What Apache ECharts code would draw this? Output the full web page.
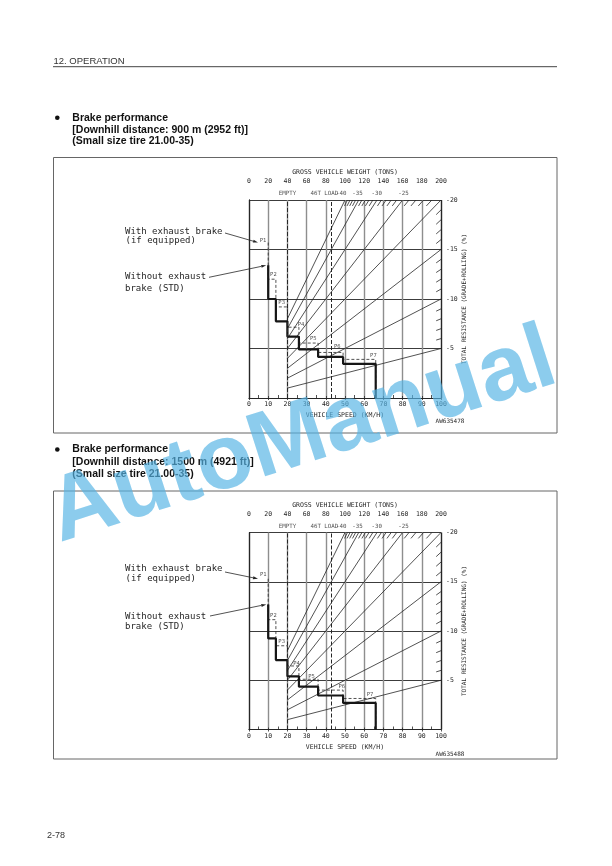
<!DOCTYPE html>
<html><head><meta charset="utf-8">
<script src="https://cdn.jsdelivr.net/npm/echarts@6/dist/echarts.min.js"></script>
<style>html,body{margin:0;padding:0;background:#fff}#c{width:612px;height:866px}</style>
</head><body><div id="c"></div>
<script>
// ---------- data ----------
const speedTicks = [0,10,20,30,40,50,60,70,80,90,100];          // km/h
const weightTicks = [0,20,40,60,80,100,120,140,160,180,200];    // tons
const resistanceTicks = [-20,-15,-10,-5];                        // %
const gearLabels = ['P1','P2','P3','P4','P5','P6','P7'];
const gearSpeeds = [10, 14, 20, 26, 36, 49, 66];                 // km/h, right end of each gear
// chart 1 : downhill distance 900 m
const c1Std = [13.4, 10.0, 7.75, 6.2, 4.9, 4.15, 3.45];
const c1Exh = [15.7, 12.0, 9.2, 7.15, 5.55, 4.6, 3.9];
const c1LabelSpeed = [7.3, 12.7, 17.0, 27.1, 33.5, 46.0, 64.8];
const c1LabelRes = [15.9, 12.5, 9.6, 7.4, 6.0, 5.2, 4.3];
// chart 2 : downhill distance 1500 m
const c2Std = [12.7, 9.25, 7.05, 5.4, 4.35, 3.45, 2.7];
const c2Exh = [15.3, 11.15, 8.5, 6.45, 5.1, 4.0, 3.15];
const c2LabelSpeed = [7.4, 12.7, 17.0, 24.8, 32.6, 48.3, 63.0];
const c2LabelRes = [15.7, 11.6, 8.9, 6.7, 5.4, 4.35, 3.5];
// total-resistance lines (value reached at GVW 200 t)
const resistanceLines = [5,10,15,20,25,30,35,40];
const resistanceMinor = [6,7,8,9,11,12,13,14,16,17,18,19,21,22,23,24,26,27,28,29,31,32,33,34,36,37,38,39];
const topGradeLabels = ['-40','-35','-30','-25'];
const topGradeLabelW = [96, 113, 133, 161];
const emptyWeight = 40;
const loadedWeight = 86;
const loadLabelW = 78.5;
const maxWeight = 200, maxRes = 20;

// ---------- layout ----------
const G = [
  {left:249, top:200, width:192, height:198},
  {left:249, top:532.5, width:192, height:197}
];
const MONO = 'DejaVu Sans Mono';
const INK = '#262626';
const GRID_GRAY = '#8e8e8e';

function stepPoints(speeds, res) {
  const pts = [[speeds[0], res[0]]];
  for (let i = 1; i < res.length; i++) {
    pts.push([speeds[i-1], res[i]]);
    pts.push([speeds[i], res[i]]);
  }
  pts.push([speeds[speeds.length-1], 0]);
  return pts;
}
function lineEnd(k) { // line through origin: r = k*W/200
  return k <= maxRes ? [maxWeight, k] : [maxRes*maxWeight/k, maxRes];
}
function minorSegment(k) {
  const e = lineEnd(k);
  if (k < maxRes) return [[maxWeight - 5, k*(maxWeight-5)/maxWeight], e];
  const r0 = maxRes - 0.6;
  return [[r0*maxWeight/k, r0], e];
}

const xAxes = [], yAxes = [], series = [], grids = [];
const splitColors = speedTicks.map((t,i) => (i===0 || i===speedTicks.length-1) ? INK : GRID_GRAY);
const charts = [
  {std:c1Std, exh:c1Exh, ls:c1LabelSpeed, lr:c1LabelRes},
  {std:c2Std, exh:c2Exh, ls:c2LabelSpeed, lr:c2LabelRes}
];
const axisFont = {fontFamily:MONO, fontSize:6.5, color:INK};

G.forEach((g, i) => {
  grids.push({left:g.left, top:g.top, width:g.width, height:g.height, show:false});
  xAxes.push({
    gridIndex:i, type:'value', position:'bottom',
    min:speedTicks[0], max:speedTicks[speedTicks.length-1], interval:10,
    axisLine:{show:true, lineStyle:{color:INK, width:1}},
    axisTick:{show:true, length:2, lineStyle:{color:INK, width:0.8}},
    axisLabel:Object.assign({margin:3}, axisFont),
    splitLine:{show:true, lineStyle:{color:splitColors, width:1.4}},
    name:'VEHICLE SPEED (KM/H)', nameLocation:'middle', nameGap:14,
    nameTextStyle:axisFont
  });
  xAxes.push({
    gridIndex:i, type:'value', position:'top', offset:13,
    min:weightTicks[0], max:weightTicks[weightTicks.length-1], interval:20,
    axisLine:{show:true, lineStyle:{color:INK, width:0.8}},
    axisTick:{show:true, length:2, lineStyle:{color:INK, width:0.8}},
    minorTick:{show:true, splitNumber:2, length:3, lineStyle:{color:INK, width:0.8}},
    axisLabel:Object.assign({margin:2}, axisFont),
    splitLine:{show:false},
    name:'GROSS VEHICLE WEIGHT (TONS)', nameLocation:'middle', nameGap:11,
    nameTextStyle:axisFont
  });
  yAxes.push({
    gridIndex:i, type:'value', position:'right', min:0, max:maxRes, interval:5,
    axisLine:{show:true, lineStyle:{color:INK, width:1}},
    axisTick:{show:false},
    axisLabel:Object.assign({margin:5, formatter:v => resistanceTicks.indexOf(-v) >= 0 ? String(-v) : ''}, axisFont),
    splitLine:{show:true, lineStyle:{color:INK, width:0.9}},
    name:'TOTAL RESISTANCE (GRADE+ROLLING) (%)', nameLocation:'middle', nameRotate:90, nameGap:20,
    nameTextStyle:{fontFamily:MONO, fontSize:6, color:INK}
  });
  yAxes.push({
    gridIndex:i, type:'value', position:'left', min:0, max:maxRes, interval:5,
    axisLine:{show:true, lineStyle:{color:INK, width:1}},
    axisTick:{show:false}, axisLabel:{show:false}, splitLine:{show:false}
  });
  const c = charts[i];
  const xs = 2*i, xw = 2*i+1, yr = 2*i;
  series.push({
    type:'lines', coordinateSystem:'cartesian2d', xAxisIndex:xw, yAxisIndex:yr, silent:true,
    lineStyle:{color:INK, width:0.8, opacity:1},
    data: resistanceLines.map(k => ({coords:[[emptyWeight, k*emptyWeight/maxWeight], lineEnd(k)]}))
  });
  series.push({
    type:'lines', coordinateSystem:'cartesian2d', xAxisIndex:xw, yAxisIndex:yr, silent:true,
    lineStyle:{color:INK, width:0.8, opacity:1},
    data: resistanceMinor.map(k => ({coords:minorSegment(k)}))
  });
  series.push({
    type:'line', xAxisIndex:xs, yAxisIndex:yr, symbol:'none', silent:true,
    lineStyle:{color:INK, width:0.8, type:[3,2]},
    data: stepPoints(gearSpeeds, c.exh), z:3
  });
  series.push({
    type:'line', xAxisIndex:xs, yAxisIndex:yr, symbol:'none', silent:true,
    lineStyle:{color:'#161616', width:2.2},
    data: stepPoints(gearSpeeds, c.std), z:4
  });
  const wLabels = [{value:[emptyWeight, maxRes], name:'EMPTY'}, {value:[loadLabelW, maxRes], name:'46T LOAD'}]
    .concat(topGradeLabels.map((t, j) => ({value:[topGradeLabelW[j], maxRes], name:t})));
  series.push({
    type:'scatter', xAxisIndex:xw, yAxisIndex:yr, symbolSize:1, silent:true, clip:false,
    itemStyle:{color:'rgba(0,0,0,0)'},
    label:{show:true, position:'top', distance:3, formatter:p => p.name, fontFamily:MONO, fontSize:5.8, color:INK},
    data: wLabels,
    markLine:{silent:true, symbol:'none', animation:false, label:{show:false},
      lineStyle:{type:[4,2], color:INK, width:1},
      data:[{xAxis:emptyWeight}, {xAxis:loadedWeight}]}
  });
  series.push({
    type:'scatter', xAxisIndex:xs, yAxisIndex:yr, symbolSize:1, silent:true,
    itemStyle:{color:'rgba(0,0,0,0)'},
    label:{show:true, position:'inside', formatter:p => p.name, fontFamily:MONO, fontSize:5.5, color:INK},
    data: gearLabels.map((t, j) => ({value:[c.ls[j], c.lr[j]], name:t}))
  });
});

const chart = echarts.init(document.getElementById('c'), null, {width:612, height:866});
chart.setOption({animation:false, grid:grids, xAxis:xAxes, yAxis:yAxes, series:series});

// ---------- page graphics ----------
function txt(x, y, s, font, opt) {
  return Object.assign({type:'text', x:x, y:y, silent:true,
    style:Object.assign({text:s, font:font, fill:INK, textAlign:'left', textVerticalAlign:'middle'}, opt||{})});
}
function arrow(x1, y1, x2, y2) {
  const a = Math.atan2(y2-y1, x2-x1), L = 5, W = 1.5;
  const bx = x2 - L*Math.cos(a), by = y2 - L*Math.sin(a);
  return [
    {type:'line', silent:true, shape:{x1:x1, y1:y1, x2:bx, y2:by}, style:{stroke:INK, lineWidth:0.8}},
    {type:'polygon', silent:true, shape:{points:[[x2,y2],[bx+W*Math.sin(a), by-W*Math.cos(a)],[bx-W*Math.sin(a), by+W*Math.cos(a)]]}, style:{fill:INK}}
  ];
}
const gfx = [];
gfx.push(txt(53.5, 61.5, '12. OPERATION', '9.5px "Liberation Sans"', {fill:'#333'}));
gfx.push({type:'line', silent:true, shape:{x1:53, y1:66.7, x2:557, y2:66.7}, style:{stroke:'#444', lineWidth:1}});
const headings = [
  {y:[117.7, 129.8, 141.5], dist:'[Downhill distance: 900 m (2952 ft)]', box:[157.5, 433]},
  {y:[449.5, 462, 474.5], dist:'[Downhill distance: 1500 m (4921 ft)]', box:[491, 759]}
];
const bold = 'bold 10.5px "Liberation Sans"';
headings.forEach(h => {
  gfx.push({type:'circle', silent:true, shape:{cx:57.3, cy:h.y[0], r:2.3}, style:{fill:'#111'}});
  gfx.push(txt(72.3, h.y[0], 'Brake performance', bold, {fill:'#111'}));
  gfx.push(txt(72.3, h.y[1], h.dist, bold, {fill:'#111'}));
  gfx.push(txt(72.3, h.y[2], '(Small size tire 21.00-35)', bold, {fill:'#111'}));
  gfx.push({type:'rect', silent:true, shape:{x:53.5, y:h.box[0], width:503.5, height:h.box[1]-h.box[0]},
    style:{fill:'none', stroke:'#666', lineWidth:1}});
});
const legendPos = [
  {rows:[231.7, 240.9, 276.7, 288.3], withFrom:[225, 233], withoutFrom:[209, 277.3]},
  {rows:[569, 579, 616.7, 626.7], withFrom:[225, 572], withoutFrom:[210, 616]}
];
const lf = '9px "DejaVu Sans Mono"';
legendPos.forEach((p, i) => {
  const c = charts[i];
  gfx.push(txt(125, p.rows[0], 'With exhaust brake', lf));
  gfx.push(txt(125.5, p.rows[1], '(if equipped)', lf));
  gfx.push(txt(125, p.rows[2], 'Without exhaust', lf));
  gfx.push(txt(125, p.rows[3], 'brake (STD)', lf));
  const tipW = chart.convertToPixel({xAxisIndex:2*i, yAxisIndex:2*i}, [4.7, c.exh[0]]);
  const tipS = chart.convertToPixel({xAxisIndex:2*i, yAxisIndex:2*i}, [9.0, c.std[0]]);
  arrow(p.withFrom[0], p.withFrom[1], tipW[0], tipW[1]).forEach(e => gfx.push(e));
  arrow(p.withoutFrom[0], p.withoutFrom[1], tipS[0], tipS[1]).forEach(e => gfx.push(e));
});
gfx.push(txt(450, 421, 'AW635478', '6px "DejaVu Sans Mono"', {textAlign:'center'}));
gfx.push(txt(450, 754, 'AW635488', '6px "DejaVu Sans Mono"', {textAlign:'center'}));
gfx.push(txt(47, 836, '2-78', '9px "Liberation Sans"', {fill:'#333'}));
// watermark
gfx.push({type:'text', silent:true, x:52, y:518, rotation:17.8*Math.PI/180, z:100,
  style:{text:'AutoManual', font:'bold 92px "Liberation Sans"', fill:'rgba(85,180,228,0.68)', textAlign:'left', textVerticalAlign:'middle'}});
chart.setOption({graphic:gfx});
</script></body></html>
